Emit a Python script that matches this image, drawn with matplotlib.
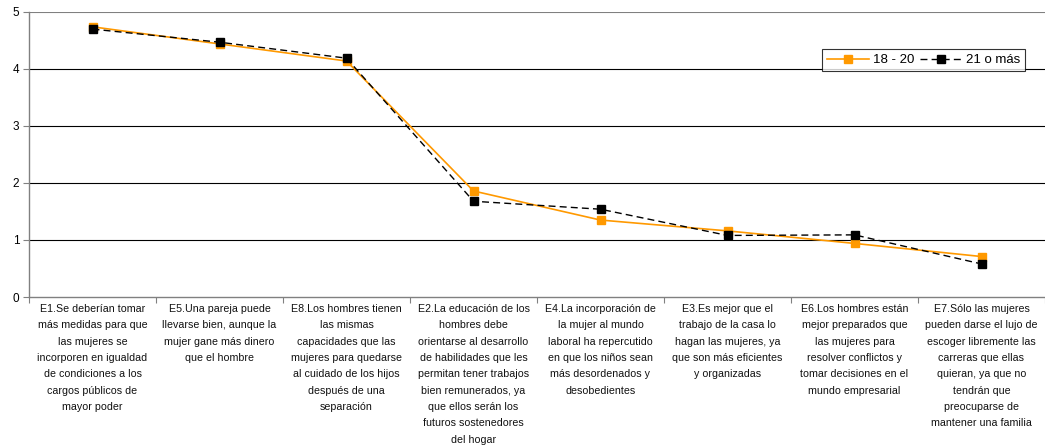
import matplotlib
matplotlib.use("Agg")
import matplotlib.pyplot as plt
import numpy as np

plt.rcParams['font.family'] = ['Liberation Sans', 'DejaVu Sans']

# category labels, wrapped as in the original
labels = [
    "E1.Se deberían tomar\nmás medidas para que\nlas mujeres se\nincorporen en igualdad\nde condiciones a los\ncargos públicos de\nmayor poder",
    "E5.Una pareja puede\nllevarse bien, aunque la\nmujer gane más dinero\nque el hombre",
    "E8.Los hombres tienen\nlas mismas\ncapacidades que las\nmujeres para quedarse\nal cuidado de los hijos\ndespués de una\nseparación",
    "E2.La educación de los\nhombres debe\norientarse al desarrollo\nde habilidades que les\npermitan tener trabajos\nbien remunerados, ya\nque ellos serán los\nfuturos sostenedores\ndel hogar",
    "E4.La incorporación de\nla mujer al mundo\nlaboral ha repercutido\nen que los niños sean\nmás desordenados y\ndesobedientes",
    "E3.Es mejor que el\ntrabajo de la casa lo\nhagan las mujeres, ya\nque son más eficientes\ny organizadas",
    "E6.Los hombres están\nmejor preparados que\nlas mujeres para\nresolver conflictos y\ntomar decisiones en el\nmundo empresarial",
    "E7.Sólo las mujeres\npueden darse el lujo de\nescoger libremente las\ncarreras que ellas\nquieran, ya que no\ntendrán que\npreocuparse de\nmantener una familia",
]
g18_20 = [4.74, 4.44, 4.14, 1.86, 1.35, 1.16, 0.94, 0.71]
g21_mas = [4.70, 4.47, 4.19, 1.68, 1.54, 1.08, 1.09, 0.58]

fig = plt.figure(figsize=(10.45, 4.48), dpi=100)
ax = fig.add_axes([29/1045, (448-297)/448, 1-29/1045, 285/448])

x = np.arange(len(labels))
ax.plot(x, g18_20, '-', color='#FF9900', lw=1.2, marker='s', ms=5.5,
        mfc='#FF9900', mec='#FF9900', label='18 - 20', zorder=3)
ax.plot(x, g21_mas, '--', color='black', lw=1.0, marker='s', ms=5.5,
        mfc='black', mec='black', label='21 o más', dashes=(5, 3), zorder=4)

ax.set_xlim(-0.5, len(labels) - 0.5)
ax.set_ylim(0, 5)
ax.set_yticks(range(6))
ax.tick_params(axis='y', labelsize=8.5, length=4, width=0.8, color='#808080', pad=3)
for v in range(1, 5):
    ax.axhline(v, color='black', lw=0.8, zorder=1)
ax.axhline(5, color='#808080', lw=0.8, zorder=1)

# ticks at category boundaries, labels drawn as text in the middle
ax.set_xticks(np.arange(-0.5, len(labels)), labels=[])
ax.tick_params(axis='x', which='major', length=4, width=0.8, color='#808080')
for xi, lab in zip(x, labels):
    ax.text(xi, -7/285, lab, transform=ax.get_xaxis_transform(),
            ha='center', va='top', fontsize=7.7, linespacing=1.79, color='#111111')

for s in ['top', 'right']:
    ax.spines[s].set_visible(False)
for s in ['left', 'bottom']:
    ax.spines[s].set_color('#808080')
    ax.spines[s].set_linewidth(1.0)

leg = ax.legend(loc='upper left', bbox_to_anchor=(793/1016, 1 - 37/285), ncol=2,
                fontsize=9.5, frameon=True, fancybox=False, edgecolor='black',
                handlelength=3.2, columnspacing=0.4, handletextpad=0.28,
                borderpad=0.38, borderaxespad=0)
leg.get_frame().set_linewidth(0.8)

fig.savefig("out.png", dpi=100)
